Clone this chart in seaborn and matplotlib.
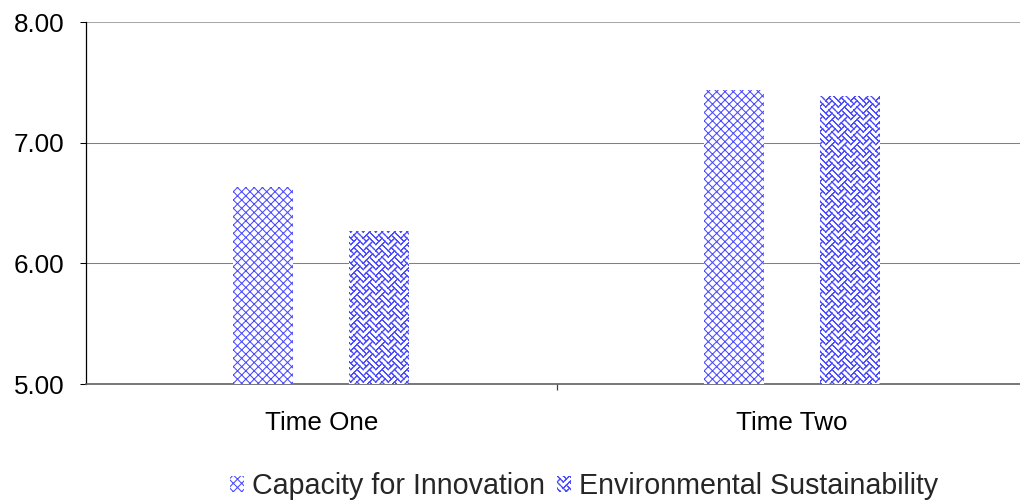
import warnings
import matplotlib
matplotlib.use("Agg")
import matplotlib.pyplot as plt
import matplotlib.patches as mpatches
import matplotlib.hatch as mhatch
from matplotlib.path import Path
import seaborn as sns
import pandas as pd

warnings.filterwarnings("ignore")

# Scores by time point for the two measures
times = ["Time One", "Time Two"]
capacity = [6.63, 7.44]
environmental = [6.27, 7.39]
measures = ["Capacity for Innovation", "Environmental Sustainability"]
y_ticks = [5.0, 6.0, 7.0, 8.0]

# 8x8 "weave" fill bitmap, one byte per row (leftmost pixel = high bit)
WEAVE_ROWS = [0x88, 0x54, 0x22, 0x45, 0x88, 0x14, 0x22, 0x51]


def _weave_segments():
    """Join diagonally neighbouring pixels of the bitmap into short strokes."""
    on = {(r, c) for r, b in enumerate(WEAVE_ROWS) for c in range(8) if b >> (7 - c) & 1}
    segs = []
    for r, c in on:
        for dc in (-1, 1):
            if ((r + 1) % 8, (c + dc) % 8) in on:
                segs.append(((c + 0.5, r + 0.5), (c + dc + 0.5, r + 1.5)))
    return segs


class WeaveHatch(mhatch.HatchPatternBase):
    """Hatch character 'w': a basket-weave texture."""

    def __init__(self, hatch, density):
        self.reps = int(hatch.count("w") * density)
        self.segs = _weave_segments()
        self.tiles = [(i, j) for i in range(-1, self.reps + 1)
                      for j in range(-1, self.reps + 1)] if self.reps else []
        self.num_vertices = 2 * len(self.segs) * len(self.tiles)

    def set_vertices_and_codes(self, vertices, codes):
        k = 0
        size = 8.0 * self.reps
        ext = 0.15
        for i, j in self.tiles:
            for (x0, y0), (x1, y1) in self.segs:
                dx, dy = x1 - x0, y1 - y0
                p0 = ((x0 - ext * dx + 8 * i) / size, 1 - (y0 - ext * dy + 8 * j) / size)
                p1 = ((x1 + ext * dx + 8 * i) / size, 1 - (y1 + ext * dy + 8 * j) / size)
                vertices[k] = p0
                vertices[k + 1] = p1
                codes[k] = Path.MOVETO
                codes[k + 1] = Path.LINETO
                k += 2


mhatch._hatch_types.append(WeaveHatch)

df = pd.DataFrame({
    "time": times * 2,
    "measure": [measures[0]] * len(times) + [measures[1]] * len(times),
    "score": capacity + environmental,
})

sns.set_theme(style="white")
plt.rcParams["font.family"] = ["Liberation Sans", "DejaVu Sans"]
plt.rcParams["hatch.linewidth"] = 1.0

DPI = 75
W, H = 1020, 501
fig = plt.figure(figsize=(W / DPI, H / DPI), dpi=DPI)
# plot area runs a few pixels past the right edge of the canvas
ax = fig.add_axes([86 / W, 1 - 384 / H, (1027 - 86) / W, (384 - 22) / H])

blue = "#4a4aff"
hatches = {measures[0]: "xxx", measures[1]: "w"}

sns.barplot(data=df, x="time", y="score", hue="measure", order=times,
            hue_order=measures, width=0.495, gap=0.485, ax=ax, legend=False,
            palette=["white", "white"])

for container, m in zip(ax.containers, measures):
    for bar in container:
        bar.set_facecolor("white")
        bar.set_edgecolor(blue)
        bar.set_linewidth(0)
        bar.set_hatch(hatches[m])
        bar.set_zorder(3)

ax.set_ylim(5, 8)
ax.set_xlim(-0.5, 1.5)
ax.set_yticks(y_ticks)
ax.set_yticklabels([f"{v:.2f}" for v in y_ticks])
ax.yaxis.grid(True, color="#808080", linewidth=1.0, zorder=0)
ax.get_ygridlines()[-1].set_color("#a8a8a8")
ax.set_axisbelow(True)

for side in ["top", "right"]:
    ax.spines[side].set_visible(False)
ax.spines["left"].set_color("black")
ax.spines["left"].set_linewidth(1.2)
ax.spines["bottom"].set_color("#606060")
ax.spines["bottom"].set_linewidth(1.6)

ax.set_xlabel("")
ax.set_ylabel("")
ax.tick_params(axis="y", which="major", left=True, length=6, width=1.0,
               color="black", labelsize=25, pad=15, labelcolor="black")
ax.set_xticks([0.5], minor=True)
ax.tick_params(axis="x", which="major", length=0, labelsize=25, pad=26,
               labelcolor="black")
ax.tick_params(axis="x", which="minor", bottom=True, length=6, width=1.2,
               color="#404040")

handles = [mpatches.Patch(facecolor="white", edgecolor=blue, linewidth=0,
                          hatch=hatches[m], label=m) for m in measures]
fig.legend(handles=handles, loc="center", bbox_to_anchor=(584 / W, 1 - 486 / H),
           ncol=2, frameon=False, fontsize=27.5, handlelength=0.5, handleheight=0.5,
           handletextpad=0.28, columnspacing=0.4, borderaxespad=0, borderpad=0)

fig.savefig("out.png", dpi=DPI)
